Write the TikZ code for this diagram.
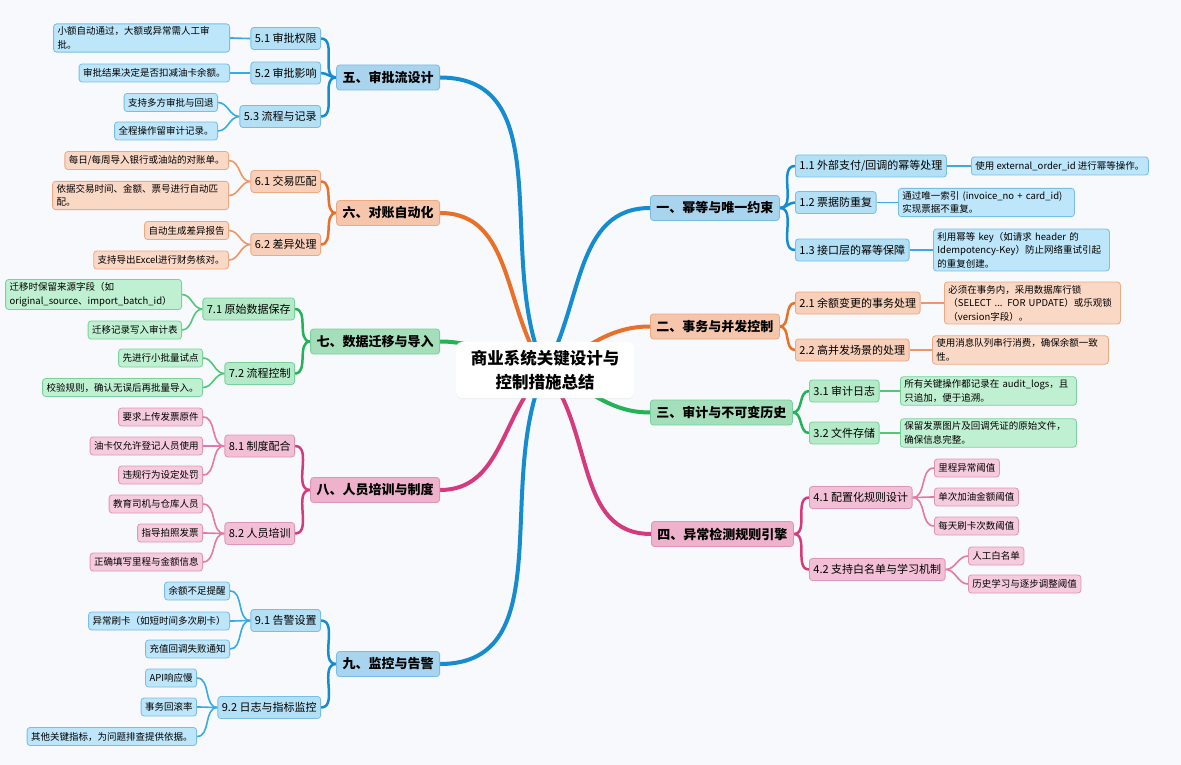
\documentclass[tikz,border=0pt]{standalone}
\usepackage{fontspec}
\setmainfont{Noto Sans CJK SC}
\usepackage{tikz}
\usetikzlibrary{positioning,shadows}
\usepackage{xcolor}
\definecolor{PageBg}{RGB}{248,249,252}
\definecolor{blueline}{RGB}{22,140,208}
\definecolor{bluethin}{RGB}{56,170,228}
\definecolor{bluemain}{RGB}{168,212,238}
\definecolor{bluesub}{RGB}{180,224,246}
\definecolor{blueleaf}{RGB}{190,230,250}
\definecolor{blueedge}{RGB}{120,190,232}
\definecolor{orangeline}{RGB}{232,112,40}
\definecolor{orangethin}{RGB}{240,150,100}
\definecolor{orangemain}{RGB}{246,198,172}
\definecolor{orangesub}{RGB}{248,208,186}
\definecolor{orangeleaf}{RGB}{250,216,198}
\definecolor{orangeedge}{RGB}{238,168,130}
\definecolor{greenline}{RGB}{36,178,86}
\definecolor{greenthin}{RGB}{80,200,120}
\definecolor{greenmain}{RGB}{164,222,186}
\definecolor{greensub}{RGB}{180,234,200}
\definecolor{greenleaf}{RGB}{192,240,210}
\definecolor{greenedge}{RGB}{120,210,156}
\definecolor{pinkline}{RGB}{214,58,126}
\definecolor{pinkthin}{RGB}{228,120,166}
\definecolor{pinkmain}{RGB}{238,178,204}
\definecolor{pinksub}{RGB}{242,192,214}
\definecolor{pinkleaf}{RGB}{245,204,222}
\definecolor{pinkedge}{RGB}{226,148,184}
\pgfdeclarelayer{bg}
\pgfsetlayers{bg,main}

\begin{document}
\begin{tikzpicture}[x=1pt, y=1pt,
    hub/.style={rectangle, fill=white, rounded corners=6pt,
                minimum width=178pt, minimum height=56pt, align=center,
                font=\fontsize{16.5pt}{24pt}\selectfont\bfseries,
                drop shadow={opacity=0.08, shadow xshift=0pt, shadow yshift=-1pt}},
    maintopic/.style={rectangle, draw=#1edge, fill=#1main, rounded corners=3pt,
                line width=0.8pt, minimum height=25pt, inner xsep=6pt, inner ysep=3pt,
                font=\fontsize{13pt}{16pt}\selectfont\bfseries},
    subtopic/.style={rectangle, draw=#1edge, fill=#1sub, rounded corners=3pt,
                line width=0.8pt, minimum height=22pt, inner xsep=4pt, inner ysep=3pt,
                font=\fontsize{11pt}{14pt}\selectfont},
    leafnote/.style={rectangle, draw=#1edge, fill=#1leaf, rounded corners=3pt,
                line width=0.8pt, minimum height=18pt, inner xsep=4pt, inner ysep=3pt,
                align=left, font=\fontsize{9.5pt}{13.5pt}\selectfont},
    trunk/.style={draw=#1line, line width=4pt, line cap=round},
    branch/.style={draw=#1line, line width=2.5pt},
    twig/.style={draw=#1thin, line width=1.6pt}
]
    \begin{pgfonlayer}{bg}
        \fill[PageBg] (0,0) rectangle (1181,-765);
    \end{pgfonlayer}
    \useasboundingbox (0,0) rectangle (1181,-765);

    \node[hub] (core) at (545,-370) {商业系统关键设计与\\控制措施总结};

    % right side
    \node[maintopic=blue, anchor=west] (t1) at (650,-208) {一、幂等与唯一约束};
    \node[subtopic=blue, anchor=west] (s11) at (795,-166) {1.1 外部支付/回调的幂等处理};
    \node[leafnote=blue, anchor=west] (l11) at (971,-166) {使用 external\_order\_id 进行幂等操作。};
    \node[subtopic=blue, anchor=west] (s12) at (795,-202.5) {1.2 票据防重复};
    \node[leafnote=blue, anchor=west, text width=168pt] (l12) at (898,-202.5) {通过唯一索引 (invoice\_no + card\_id)\\实现票据不重复。};
    \node[subtopic=blue, anchor=west] (s13) at (795,-250) {1.3 接口层的幂等保障};
    \node[leafnote=blue, anchor=west, text width=168pt] (l13) at (933,-250) {利用幂等 key（如请求 header 的\\Idempotency-Key）防止网络重试引起\\的重复创建。};

    \node[maintopic=orange, anchor=west] (t2) at (650,-326.5) {二、事务与并发控制};
    \node[subtopic=orange, anchor=west] (s21) at (795,-303) {2.1 余额变更的事务处理};
    \node[leafnote=orange, anchor=west, text width=168pt] (l21) at (944,-303) {必须在事务内，采用数据库行锁\\（SELECT ... FOR UPDATE）或乐观锁\\（version字段）。};
    \node[subtopic=orange, anchor=west] (s22) at (795,-350) {2.2 高并发场景的处理};
    \node[leafnote=orange, anchor=west, text width=168pt] (l22) at (932,-350) {使用消息队列串行消费，确保余额一致\\性。};

    \node[maintopic=green, anchor=west] (t3) at (650,-412.5) {三、审计与不可变历史};
    \node[subtopic=green, anchor=west] (s31) at (809,-391) {3.1 审计日志};
    \node[leafnote=green, anchor=west, text width=168pt] (l31) at (900,-391) {所有关键操作都记录在 audit\_logs，且\\只追加，便于追溯。};
    \node[subtopic=green, anchor=west] (s32) at (809,-433) {3.2 文件存储};
    \node[leafnote=green, anchor=west, text width=168pt] (l32) at (900,-433) {保留发票图片及回调凭证的原始文件，\\确保信息完整。};

    \node[maintopic=pink, anchor=west] (t4) at (651,-534) {四、异常检测规则引擎};
    \node[subtopic=pink, anchor=west] (s41) at (809,-497.5) {4.1 配置化规则设计};
    \node[leafnote=pink, anchor=west] (l411) at (934,-468) {里程异常阈值};
    \node[leafnote=pink, anchor=west] (l412) at (934,-497) {单次加油金额阈值};
    \node[leafnote=pink, anchor=west] (l413) at (934,-526) {每天刷卡次数阈值};
    \node[subtopic=pink, anchor=west] (s42) at (809,-569.5) {4.2 支持白名单与学习机制};
    \node[leafnote=pink, anchor=west] (l421) at (968,-556) {人工白名单};
    \node[leafnote=pink, anchor=west] (l422) at (968,-584) {历史学习与逐步调整阈值};

    % left side
    \node[maintopic=blue, anchor=east] (t5) at (440,-77.5) {五、审批流设计};
    \node[subtopic=blue, anchor=east] (s51) at (321,-38.5) {5.1 审批权限};
    \node[leafnote=blue, anchor=east, text width=168pt] (l51) at (230,-38) {小额自动通过，大额或异常需人工审\\批。};
    \node[subtopic=blue, anchor=east] (s52) at (321,-73) {5.2 审批影响};
    \node[leafnote=blue, anchor=east] (l52) at (230,-73) {审批结果决定是否扣减油卡余额。};
    \node[subtopic=blue, anchor=east] (s53) at (321,-116.5) {5.3 流程与记录};
    \node[leafnote=blue, anchor=east] (l531) at (218,-102.5) {支持多方审批与回退};
    \node[leafnote=blue, anchor=east] (l532) at (218,-131) {全程操作留审计记录。};

    \node[maintopic=orange, anchor=east] (t6) at (440,-213) {六、对账自动化};
    \node[subtopic=orange, anchor=east] (s61) at (321,-181.5) {6.1 交易匹配};
    \node[leafnote=orange, anchor=east] (l611) at (229,-160.5) {每日/每周导入银行或油站的对账单。};
    \node[leafnote=orange, anchor=east, text width=168pt] (l612) at (229,-195.5) {依据交易时间、金额、票号进行自动匹\\配。};
    \node[subtopic=orange, anchor=east] (s62) at (321,-244.5) {6.2 差异处理};
    \node[leafnote=orange, anchor=east] (l621) at (229,-230.5) {自动生成差异报告};
    \node[leafnote=orange, anchor=east] (l622) at (229,-260) {支持导出Excel进行财务核对。};

    \node[maintopic=green, anchor=east] (t7) at (440,-341.5) {七、数据迁移与导入};
    \node[subtopic=green, anchor=east] (s71) at (295,-309) {7.1 原始数据保存};
    \node[leafnote=green, anchor=east, text width=168pt] (l711) at (182,-294.5) {迁移时保留来源字段（如\\original\_source、import\_batch\_id）};
    \node[leafnote=green, anchor=east] (l712) at (182,-330) {迁移记录写入审计表};
    \node[subtopic=green, anchor=east] (s72) at (295,-373.5) {7.2 流程控制};
    \node[leafnote=green, anchor=east] (l721) at (203,-358) {先进行小批量试点};
    \node[leafnote=green, anchor=east] (l722) at (203,-387.5) {校验规则，确认无误后再批量导入。};

    \node[maintopic=pink, anchor=east] (t8) at (440,-490) {八、人员培训与制度};
    \node[subtopic=pink, anchor=east] (s81) at (295,-446) {8.1 制度配合};
    \node[leafnote=pink, anchor=east] (l811) at (203,-417) {要求上传发票原件};
    \node[leafnote=pink, anchor=east] (l812) at (203,-446) {油卡仅允许登记人员使用};
    \node[leafnote=pink, anchor=east] (l813) at (203,-475) {违规行为设定处罚};
    \node[subtopic=pink, anchor=east] (s82) at (295,-533.5) {8.2 人员培训};
    \node[leafnote=pink, anchor=east] (l821) at (203,-504) {教育司机与仓库人员};
    \node[leafnote=pink, anchor=east] (l822) at (203,-533) {指导拍照发票};
    \node[leafnote=pink, anchor=east] (l823) at (203,-562) {正确填写里程与金额信息};

    \node[maintopic=blue, anchor=east] (t9) at (440,-664) {九、监控与告警};
    \node[subtopic=blue, anchor=east] (s91) at (321,-620.5) {9.1 告警设置};
    \node[leafnote=blue, anchor=east] (l911) at (230,-591) {余额不足提醒};
    \node[leafnote=blue, anchor=east] (l912) at (230,-621) {异常刷卡（如短时间多次刷卡）};
    \node[leafnote=blue, anchor=east] (l913) at (230,-649) {充值回调失败通知};
    \node[subtopic=blue, anchor=east] (s92) at (321,-707.5) {9.2 日志与指标监控};
    \node[leafnote=blue, anchor=east] (l921) at (197,-678) {API响应慢};
    \node[leafnote=blue, anchor=east] (l922) at (197,-707) {事务回滚率};
    \node[leafnote=blue, anchor=east] (l923) at (197,-736.5) {其他关键指标，为问题排查提供依据。};

    \begin{pgfonlayer}{bg}
        % center to main topics
        \draw[trunk=blue] (core.center) to[out=60, in=180] (t1.west);
        \draw[trunk=orange] (core.center) to[out=25, in=180] (t2.west);
        \draw[trunk=green] (core.center) to[out=-20, in=180] (t3.west);
        \draw[trunk=pink] (core.center) to[out=-50, in=180] (t4.west);
        \draw[trunk=blue] (core.center) to[out=115, in=0] (t5.east);
        \draw[trunk=orange] (core.center) to[out=125, in=0] (t6.east);
        \draw[trunk=green] (core.center) to[out=170, in=0] (t7.east);
        \draw[trunk=pink] (core.center) to[out=-135, in=0] (t8.east);
        \draw[trunk=blue] (core.center) to[out=-115, in=0] (t9.east);

        % main topics to subtopics
        \draw[branch=blue] (t1.east) to[out=0, in=180] (s11.west);
        \draw[branch=blue] (t1.east) to[out=0, in=180] (s12.west);
        \draw[branch=blue] (t1.east) to[out=0, in=180] (s13.west);
        \draw[branch=orange] (t2.east) to[out=0, in=180] (s21.west);
        \draw[branch=orange] (t2.east) to[out=0, in=180] (s22.west);
        \draw[branch=green] (t3.east) to[out=0, in=180] (s31.west);
        \draw[branch=green] (t3.east) to[out=0, in=180] (s32.west);
        \draw[branch=pink] (t4.east) to[out=0, in=180] (s41.west);
        \draw[branch=pink] (t4.east) to[out=0, in=180] (s42.west);
        \draw[branch=blue] (t5.west) to[out=180, in=0] (s51.east);
        \draw[branch=blue] (t5.west) to[out=180, in=0] (s52.east);
        \draw[branch=blue] (t5.west) to[out=180, in=0] (s53.east);
        \draw[branch=orange] (t6.west) to[out=180, in=0] (s61.east);
        \draw[branch=orange] (t6.west) to[out=180, in=0] (s62.east);
        \draw[branch=green] (t7.west) to[out=180, in=0] (s71.east);
        \draw[branch=green] (t7.west) to[out=180, in=0] (s72.east);
        \draw[branch=pink] (t8.west) to[out=180, in=0] (s81.east);
        \draw[branch=pink] (t8.west) to[out=180, in=0] (s82.east);
        \draw[branch=blue] (t9.west) to[out=180, in=0] (s91.east);
        \draw[branch=blue] (t9.west) to[out=180, in=0] (s92.east);

        % subtopics to leaves
        \draw[twig=blue] (s11.east) to[out=0, in=180] (l11.west);
        \draw[twig=blue] (s12.east) to[out=0, in=180] (l12.west);
        \draw[twig=blue] (s13.east) to[out=0, in=180] (l13.west);
        \draw[twig=orange] (s21.east) to[out=0, in=180] (l21.west);
        \draw[twig=orange] (s22.east) to[out=0, in=180] (l22.west);
        \draw[twig=green] (s31.east) to[out=0, in=180] (l31.west);
        \draw[twig=green] (s32.east) to[out=0, in=180] (l32.west);
        \draw[twig=pink] (s41.east) to[out=0, in=180] (l411.west);
        \draw[twig=pink] (s41.east) to[out=0, in=180] (l412.west);
        \draw[twig=pink] (s41.east) to[out=0, in=180] (l413.west);
        \draw[twig=pink] (s42.east) to[out=0, in=180] (l421.west);
        \draw[twig=pink] (s42.east) to[out=0, in=180] (l422.west);
        \draw[twig=blue] (s51.west) to[out=180, in=0] (l51.east);
        \draw[twig=blue] (s52.west) to[out=180, in=0] (l52.east);
        \draw[twig=blue] (s53.west) to[out=180, in=0] (l531.east);
        \draw[twig=blue] (s53.west) to[out=180, in=0] (l532.east);
        \draw[twig=orange] (s61.west) to[out=180, in=0] (l611.east);
        \draw[twig=orange] (s61.west) to[out=180, in=0] (l612.east);
        \draw[twig=orange] (s62.west) to[out=180, in=0] (l621.east);
        \draw[twig=orange] (s62.west) to[out=180, in=0] (l622.east);
        \draw[twig=green] (s71.west) to[out=180, in=0] (l711.east);
        \draw[twig=green] (s71.west) to[out=180, in=0] (l712.east);
        \draw[twig=green] (s72.west) to[out=180, in=0] (l721.east);
        \draw[twig=green] (s72.west) to[out=180, in=0] (l722.east);
        \draw[twig=pink] (s81.west) to[out=180, in=0] (l811.east);
        \draw[twig=pink] (s81.west) to[out=180, in=0] (l812.east);
        \draw[twig=pink] (s81.west) to[out=180, in=0] (l813.east);
        \draw[twig=pink] (s82.west) to[out=180, in=0] (l821.east);
        \draw[twig=pink] (s82.west) to[out=180, in=0] (l822.east);
        \draw[twig=pink] (s82.west) to[out=180, in=0] (l823.east);
        \draw[twig=blue] (s91.west) to[out=180, in=0] (l911.east);
        \draw[twig=blue] (s91.west) to[out=180, in=0] (l912.east);
        \draw[twig=blue] (s91.west) to[out=180, in=0] (l913.east);
        \draw[twig=blue] (s92.west) to[out=180, in=0] (l921.east);
        \draw[twig=blue] (s92.west) to[out=180, in=0] (l922.east);
        \draw[twig=blue] (s92.west) to[out=180, in=0] (l923.east);
    \end{pgfonlayer}
\end{tikzpicture}
\end{document}
